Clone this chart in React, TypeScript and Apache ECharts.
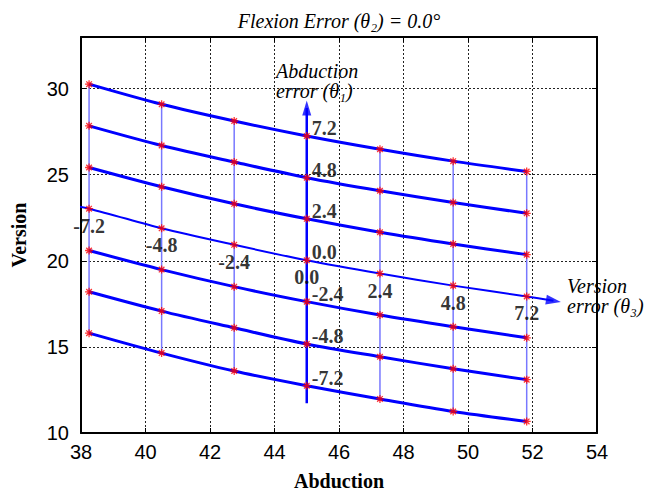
import React, { useEffect, useRef } from "react";
import * as echarts from "echarts";

// Abduction positions of the seven columns (version error -7.2 ... 7.2)
const xCols = [38.25, 40.5, 42.75, 45, 47.27, 49.54, 51.82];
const colLabels = ["-7.2", "-4.8", "-2.4", "0.0", "2.4", "4.8", "7.2"];
// Version values along each abduction-error row
const rowP72 = [30.26, 29.09, 28.12, 27.25, 26.48, 25.79, 25.19];
const rowP48 = [27.84, 26.7, 25.74, 24.83, 24.07, 23.39, 22.76];
const rowP24 = [25.42, 24.3, 23.31, 22.44, 21.66, 20.98, 20.36];
const row00 = [23.03, 21.89, 20.93, 20.03, 19.26, 18.56, 17.93];
const rowM24 = [20.6, 19.49, 18.5, 17.63, 16.85, 16.17, 15.53];
const rowM48 = [18.2, 17.08, 16.11, 15.17, 14.43, 13.73, 13.1];
const rowM72 = [15.8, 14.64, 13.6, 12.75, 11.98, 11.25, 10.67];
const rows = [rowP72, rowP48, rowP24, row00, rowM24, rowM48, rowM72];
const rowLabels = ["7.2", "4.8", "2.4", "0.0", "-2.4", "-4.8", "-7.2"];
// Error axes (arrows): start and arrow-head centre
const abdErrAxisX = [45, 45];
const abdErrAxisY = [11.73, 28.88];
const verErrAxisStart = [37.42, 23.3];
const verErrAxisEnd = [52.65, 17.68];
// Axis scales
const xMin = 38, xMax = 54, xStep = 2;
const yMin = 10, yMax = 33, yStep = 5;

const SERIF = "'Times New Roman', 'Liberation Serif', 'DejaVu Serif', serif";
const SANS = "Arial, 'Liberation Sans', sans-serif";
const BLUE = "#0000ff";
const ASTER = "path://M0,-5L0,5M-5,0L5,0M-3.5,-3.5L3.5,3.5M-3.5,3.5L3.5,-3.5";

function buildOption(verArrowRotate: number) {
  const series: any[] = [];
  // thin vertical column lines
  xCols.forEach((x, j) => {
    if (j === 3) return;
    series.push({
      type: "line",
      data: rows.map((r) => [x, r[j]]),
      showSymbol: false,
      lineStyle: { color: "#7878ff", width: 1.5 },
      silent: true,
      z: 2,
    });
  });
  // abduction error axis (vertical arrow)
  series.push({
    type: "line",
    data: [
      [abdErrAxisX[0], abdErrAxisY[0]],
      [abdErrAxisX[1], abdErrAxisY[1]],
    ],
    showSymbol: false,
    lineStyle: { color: BLUE, width: 2.5 },
    silent: true,
    z: 3,
  });
  series.push({
    type: "scatter",
    data: [[abdErrAxisX[1], abdErrAxisY[1]]],
    symbol: "triangle",
    symbolSize: [9, 15],
    symbolRotate: 0,
    itemStyle: { color: BLUE },
    silent: true,
    z: 4,
  });
  // row lines
  rows.forEach((r, i) => {
    const pts = r.map((y, j) => [xCols[j], y]);
    if (i === 3) {
      series.push({
        type: "line",
        data: [verErrAxisStart, ...pts, verErrAxisEnd],
        smooth: 0.3,
        clip: false,
        showSymbol: false,
        lineStyle: { color: BLUE, width: 2 },
        silent: true,
        z: 3,
      });
    } else {
      series.push({
        type: "line",
        data: pts,
        smooth: 0.3,
        showSymbol: false,
        lineStyle: { color: BLUE, width: 3 },
        silent: true,
        z: 3,
      });
    }
  });
  series.push({
    type: "scatter",
    data: [verErrAxisEnd],
    symbol: "triangle",
    symbolSize: [10, 15],
    symbolRotate: verArrowRotate,
    itemStyle: { color: BLUE },
    silent: true,
    z: 4,
  });
  // markers
  const allPts: number[][] = [];
  rows.forEach((r) => r.forEach((y, j) => allPts.push([xCols[j], y])));
  series.push({
    type: "scatter",
    data: allPts,
    symbol: ASTER,
    symbolSize: 8,
    itemStyle: { color: "transparent", borderColor: "#ff0000", borderWidth: 1.3 },
    silent: true,
    z: 5,
  });
  const boldLabel = {
    fontFamily: SERIF,
    fontWeight: "bold",
    fontSize: 20,
    color: "#000",
  };
  // row labels (abduction error)
  series.push({
    type: "scatter",
    data: rows.map((r, i) => ({ name: rowLabels[i], value: [xCols[3], r[3]] })),
    symbolSize: 0,
    silent: true,
    z: 6,
    label: {
      show: true,
      formatter: "{b}",
      position: "right",
      distance: 5,
      offset: [0, -8],
      ...boldLabel,
    },
  });
  // column labels (version error)
  series.push({
    type: "scatter",
    data: row00.map((y, j) => ({ name: colLabels[j], value: [xCols[j], y] })),
    symbolSize: 0,
    silent: true,
    z: 6,
    label: {
      show: true,
      formatter: "{b}",
      position: "bottom",
      distance: 7,
      ...boldLabel,
    },
  });

  const splitLine = { show: true, lineStyle: { color: "#222", width: 1, type: [2, 2] } };
  const italicText = {
    fontFamily: SERIF,
    fontStyle: "italic",
    fontSize: 20,
    lineHeight: 20,
    fill: "#000",
  };
  return {
    animation: false,
    grid: { left: 81, right: 48, top: 37, bottom: 53, containLabel: false },
    xAxis: [
      {
        type: "value",
        min: xMin,
        max: xMax,
        interval: xStep,
        name: "Abduction",
        nameLocation: "middle",
        nameGap: 38,
        nameTextStyle: { fontFamily: SERIF, fontWeight: "bold", fontSize: 20, color: "#000" },
        axisLine: { show: true, lineStyle: { color: "#000", width: 2 } },
        axisTick: { show: true, inside: true, length: 5, lineStyle: { color: "#000" } },
        axisLabel: { fontFamily: SANS, fontSize: 20, color: "#000", margin: 9 },
        splitLine,
      },
      {
        type: "value",
        position: "top",
        min: xMin,
        max: xMax,
        interval: xStep,
        axisLine: { show: true, lineStyle: { color: "#000", width: 2 } },
        axisTick: { show: true, inside: true, length: 5, lineStyle: { color: "#000" } },
        axisLabel: { show: false },
        splitLine: { show: false },
      },
    ],
    yAxis: [
      {
        type: "value",
        min: yMin,
        max: yMax,
        interval: yStep,
        name: "Version",
        nameLocation: "middle",
        nameGap: 52,
        nameRotate: 90,
        nameTextStyle: { fontFamily: SERIF, fontWeight: "bold", fontSize: 20, color: "#000" },
        axisLine: { show: true, lineStyle: { color: "#000", width: 2 } },
        axisTick: { show: true, inside: true, length: 5, lineStyle: { color: "#000" } },
        axisLabel: {
          fontFamily: SANS,
          fontSize: 20,
          color: "#000",
          margin: 12,
          formatter: (v: number) => (v % yStep === 0 ? String(v) : ""),
        },
        splitLine,
      },
      {
        type: "value",
        position: "right",
        min: yMin,
        max: yMax,
        interval: yStep,
        axisLine: { show: true, lineStyle: { color: "#000", width: 2 } },
        axisTick: { show: true, inside: true, length: 5, lineStyle: { color: "#000" } },
        axisLabel: { show: false },
        splitLine: { show: false },
      },
    ],
    graphic: [
      {
        type: "text",
        x: 339,
        y: 11,
        style: {
          text: "Flexion Error (θ₂) = 0.0°",
          align: "center",
          verticalAlign: "top",
          ...italicText,
        },
      },
      {
        type: "text",
        x: 276,
        y: 61,
        z: 10,
        style: { text: "Abduction\nerror (θ₁)", ...italicText },
      },
      {
        type: "text",
        x: 567,
        y: 276,
        z: 10,
        style: { text: "Version\nerror (θ₃)", ...italicText },
      },
    ],
    series,
  };
}

export default function App() {
  const ref = useRef<HTMLDivElement>(null);
  useEffect(() => {
    if (!ref.current) return;
    const chart = echarts.init(ref.current, null, { renderer: "svg" });
    chart.setOption(buildOption(-90));
    // orient the version-error arrow head along its last segment
    const last = [xCols[6], row00[6]];
    const p1 = chart.convertToPixel({ gridIndex: 0 }, last) as number[];
    const p2 = chart.convertToPixel({ gridIndex: 0 }, verErrAxisEnd) as number[];
    if (p1 && p2) {
      const ang = (Math.atan2(-(p2[1] - p1[1]), p2[0] - p1[0]) * 180) / Math.PI;
      chart.setOption(buildOption(ang - 90), { notMerge: true });
    }
    return () => chart.dispose();
  }, []);
  return (
    <div
      ref={ref}
      style={{ position: "fixed", left: 0, top: 0, width: 645, height: 496, background: "#fff" }}
    />
  );
}
